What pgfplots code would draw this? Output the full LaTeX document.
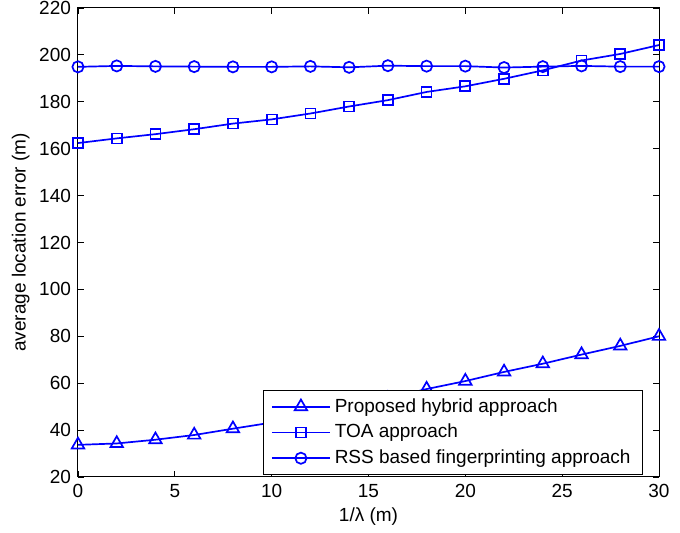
\documentclass[border=0pt]{standalone}
\usepackage{fontspec}
\setmainfont{Liberation Sans}
\usepackage{pgfplots}
\pgfplotsset{compat=1.18}

\definecolor{mblue}{RGB}{0,0,255}

\begin{document}
\begin{tikzpicture}[font=\fontsize{9.5}{11.4}\selectfont]
\path[use as bounding box] (-39pt,-28pt) rectangle (301pt,238.5pt);
\begin{axis}[
    scale only axis,
    width=290.5pt, height=234.5pt,
    xmin=0, xmax=30,
    ymin=20, ymax=220,
    xtick={0,5,...,30},
    ytick={20,40,...,220},
    tick align=inside,
    major tick length=3pt,
    axis line style={line width=0.5pt},
    tick style={line width=0.4pt, black},
    /pgf/number format/assume math mode=true,
    ticklabel style={font=\fontsize{9.5}{11.4}\selectfont},
    label style={font=\fontsize{9.5}{11.4}\selectfont},
    xlabel={1/λ (m)},
    ylabel={average location error (m)},
    xlabel style={yshift=2pt},
    ylabel style={yshift=-2pt},
    legend cell align=left,
    legend style={
        at={(rel axis cs:0.9725,0.004)}, anchor=south east,
        draw=black, line width=0.5pt,
        font=\fontsize{9.5}{11.4}\selectfont,
        row sep=0.5pt, inner xsep=4pt, inner ysep=2pt,
    },
    legend image code/.code={
        \draw[mark repeat=2,mark phase=2,#1]
            plot coordinates {(0pt,0pt) (14.5pt,0pt) (29pt,0pt)};
    },
    mline/.style={color=mblue, line width=0.85pt,
        mark options={fill=white, solid, line width=0.85pt, draw=mblue}},
]
\addplot[mline, mark=triangle, mark size=3.6pt] coordinates {
    (0,33.7)(2,34.3)(4,35.9)(6,37.9)(8,40.6)(10,43.2)(12,46.2)(14,49.6)
    (16,53.5)(18,57.5)(20,60.9)(22,64.8)(24,68.3)(26,72.2)(28,75.9)(30,80.0)
};
\addlegendentry{Proposed hybrid approach}
\addplot[mline, mark=square, mark size=2.5pt] coordinates {
    (0,162.4)(2,164.4)(4,166.2)(6,168.3)(8,170.7)(10,172.5)(12,175.0)(14,178.0)
    (16,180.7)(18,184.2)(20,186.6)(22,189.8)(24,193.4)(26,197.6)(28,200.4)(30,204.2)
};
\addlegendentry{TOA approach}
\addplot[mline, mark=o, mark size=2.8pt] coordinates {
    (0,194.9)(2,195.3)(4,195.1)(6,195.0)(8,194.9)(10,194.9)(12,195.1)(14,194.7)
    (16,195.4)(18,195.2)(20,195.2)(22,194.6)(24,195.0)(26,195.3)(28,195.0)(30,195.0)
};
\addlegendentry{RSS based fingerprinting approach}
\end{axis}
\end{tikzpicture}
\end{document}
